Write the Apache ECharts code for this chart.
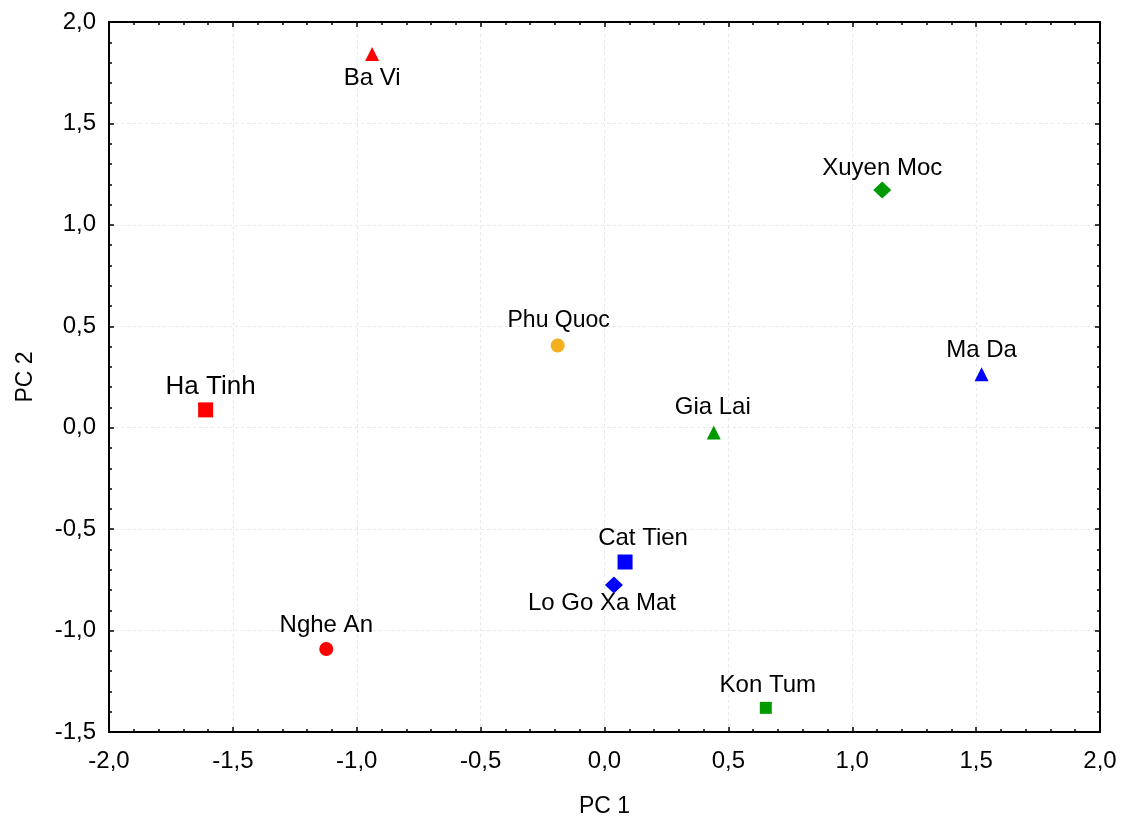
<!DOCTYPE html>
<html><head><meta charset="utf-8">
<script src="https://cdn.jsdelivr.net/npm/echarts@6/dist/echarts.min.js"></script>
<style>html,body{margin:0;padding:0;background:#fff}#c{width:1123px;height:823px}</style>
</head><body><div id="c"></div>
<script>
// ---- data ----
const sites = ['Ba Vi','Xuyen Moc','Phu Quoc','Ma Da','Ha Tinh','Gia Lai','Cat Tien','Lo Go Xa Mat','Nghe An','Kon Tum'];
const pc1 = [-0.938, 1.121, -0.189, 1.522, -1.610, 0.441, 0.083, 0.038, -1.123, 0.651];
const pc2 = [1.842, 1.172, 0.405, 0.263, 0.088, -0.024, -0.662, -0.775, -1.091, -1.381];
const xTickValues = [-2.0, -1.5, -1.0, -0.5, 0.0, 0.5, 1.0, 1.5, 2.0];
const yTickValues = [-1.5, -1.0, -0.5, 0.0, 0.5, 1.0, 1.5, 2.0];

// ---- styles ----
const symbols = ['triangle','diamond','circle','triangle','rect','triangle','rect','diamond','circle','rect'];
const colors = ['#ff0000','#009a00','#f2b01e','#0000ff','#ff0000','#009a00','#0000ff','#0000ff','#ff0000','#009a00'];
const symSizes = [[14,14],[18,17],14,[14,14],[15,15],[14,14],[15,15],[18,17],14,[12,12]];
const labelOffsets = [[0,24],[0,-22],[1,-25],[0,-24],[5,-23],[-1,-25],[18,-24],[-12,18],[0,-24],[2,-22]];
const labelSizes = [24,24,23,24,26,24,24,24,24,24];

const fmt = v => v.toFixed(1).replace('.', ',').replace('-0,0','0,0');
const FONT = '"Liberation Sans", Arial, sans-serif';

const points = sites.map((s, i) => ({
  name: s,
  value: [pc1[i], pc2[i]],
  symbol: symbols[i],
  symbolSize: symSizes[i],
  itemStyle: { color: colors[i], opacity: 1 }
}));
const labelPoints = sites.map((s, i) => ({
  name: s,
  value: [pc1[i], pc2[i]],
  symbolOffset: labelOffsets[i],
  label: { show: true, position: 'inside', formatter: '{b}', color: '#000', opacity: 1, fontSize: labelSizes[i], fontFamily: FONT }
}));

function xAx(pos, showLabel) {
  return {
    type: 'value', position: pos, min: xTickValues[0], max: xTickValues[xTickValues.length-1], interval: 0.5,
    axisLine: { show: true, onZero: false, lineStyle: { color: '#000', width: 2 } },
    axisTick: { show: true, inside: true, length: 5, lineStyle: { color: '#000', width: 1.5 } },
    minorTick: { show: true, splitNumber: 5, length: 3, lineStyle: { color: '#000', width: 1.5 } },
    axisLabel: { show: showLabel, formatter: fmt, fontSize: 24, color: '#000', fontFamily: FONT, margin: 17 },
    splitLine: { show: showLabel, lineStyle: { color: '#e8e8e8', type: [3, 3], width: 1 } },
    name: showLabel ? 'PC 1' : '', nameLocation: 'middle', nameGap: 63,
    nameTextStyle: { fontSize: 23, color: '#000', fontFamily: FONT }
  };
}
function yAx(pos, showLabel) {
  return {
    type: 'value', position: pos, min: yTickValues[0], max: yTickValues[yTickValues.length-1], interval: 0.5,
    axisLine: { show: true, onZero: false, lineStyle: { color: '#000', width: 2 } },
    axisTick: { show: true, inside: true, length: 5, lineStyle: { color: '#000', width: 1.5 } },
    minorTick: { show: true, splitNumber: 5, length: 3, lineStyle: { color: '#000', width: 1.5 } },
    axisLabel: { show: showLabel, formatter: fmt, fontSize: 24, color: '#000', fontFamily: FONT, margin: 13 },
    splitLine: { show: showLabel, lineStyle: { color: '#e8e8e8', type: [3, 3], width: 1 } },
    name: showLabel ? 'PC 2' : '', nameLocation: 'middle', nameGap: 72,
    nameTextStyle: { fontSize: 23, color: '#000', fontFamily: FONT }
  };
}

const chart = echarts.init(document.getElementById('c'), null, { renderer: 'canvas' });
chart.setOption({
  animation: false,
  backgroundColor: '#fff',
  grid: { left: 109, right: 23, top: 22, bottom: 89, containLabel: false },
  xAxis: [xAx('bottom', true), xAx('top', false)],
  yAxis: [yAx('left', true), yAx('right', false)],
  series: [{
    type: 'scatter', xAxisIndex: 0, yAxisIndex: 0,
    data: points,
    itemStyle: { opacity: 1 },
    label: { show: false },
    emphasis: { disabled: true },
    z: 3
  }, {
    type: 'scatter', xAxisIndex: 0, yAxisIndex: 0,
    data: labelPoints,
    symbol: 'circle', symbolSize: 1,
    itemStyle: { color: 'rgba(0,0,0,0)', opacity: 1 },
    emphasis: { disabled: true },
    silent: true,
    z: 4
  }]
});
</script></body></html>
